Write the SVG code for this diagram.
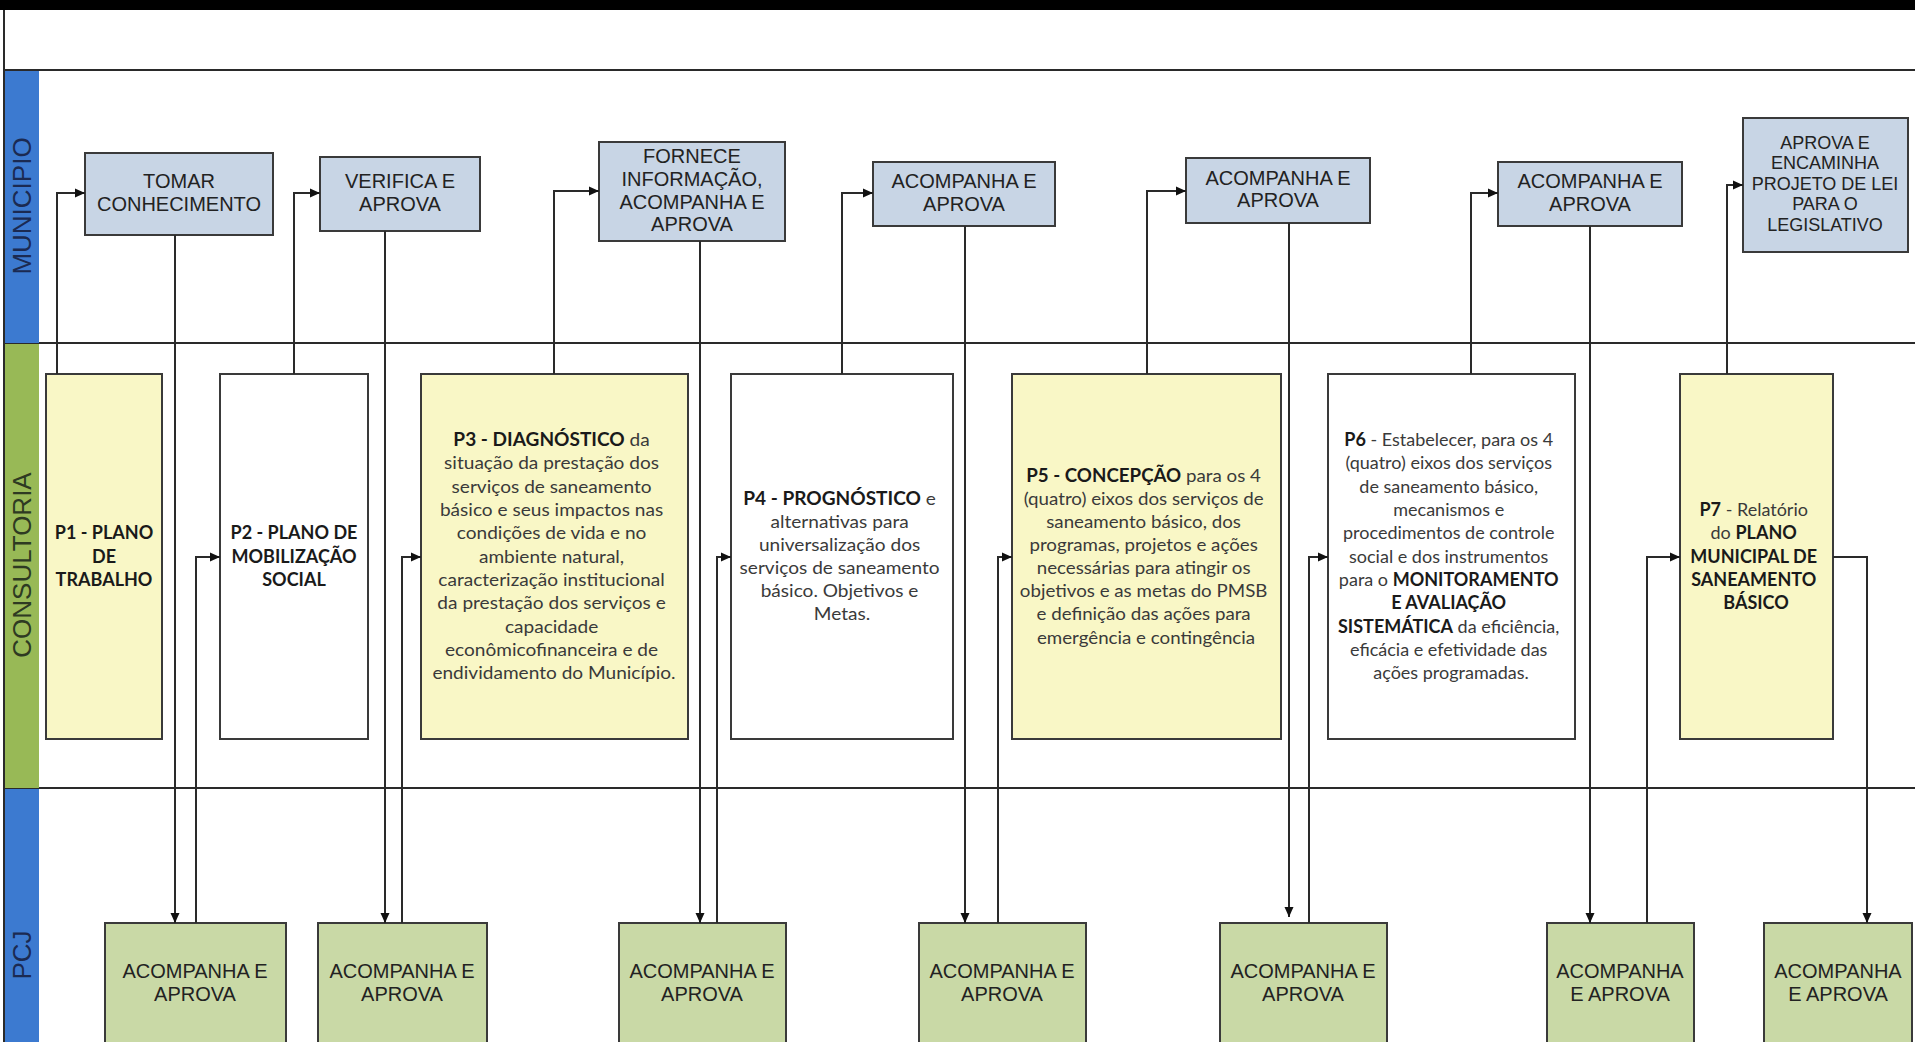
<svg xmlns="http://www.w3.org/2000/svg" width="1915" height="1042" viewBox="0 0 1915 1042">
<defs>
<marker id="ah" markerWidth="10" markerHeight="10" refX="10" refY="5" orient="auto" markerUnits="userSpaceOnUse"><path d="M0,0.5 L10,5 L0,9.5 z" fill="#111"/></marker>
<style>
.mun{fill:#C8D5E5;stroke:#3a3a3a;stroke-width:2}
.pcj{fill:#C9D9A6;stroke:#3a3a3a;stroke-width:2}
.yel{fill:#F9F7C6;stroke:#3a3a3a;stroke-width:2}
.wht{fill:#fff;stroke:#3a3a3a;stroke-width:2}
.lbl{font-family:"Liberation Sans",Arial,sans-serif;font-size:20px;fill:#222;text-anchor:middle}
.lbl18{font-size:18px}
.ptx{font-family:Lato,"Open Sans",sans-serif;font-size:18px;fill:#3a3a3a;text-anchor:middle}
.b{font-weight:bold;fill:#1a1a1a}
.con{fill:none;stroke:#2a2a2a;stroke-width:2}
.ln{stroke:#2a2a2a;stroke-width:2}
.lane{font-family:"Liberation Sans",Arial,sans-serif;font-size:26px;text-anchor:middle;dominant-baseline:central}
</style>
</defs>
<rect x="0" y="0" width="1915" height="1042" fill="#fff"/>
<g id="frame">
<rect x="0" y="0" width="1915" height="10" fill="#000"/>
<line class="ln" x1="4" y1="10" x2="4" y2="1042"/>
<line class="ln" x1="4" y1="70" x2="1915" y2="70"/>
<line class="ln" x1="4" y1="343" x2="1915" y2="343"/>
<line class="ln" x1="4" y1="788" x2="1915" y2="788"/>
</g>
<g id="lane-municipio">
<rect x="5" y="71" width="34" height="272" fill="#3C7AD0"/>
<text class="lane" fill="#1B2A52" transform="translate(22,206) rotate(-90)">MUNICIPIO</text>
</g>
<g id="lane-consultoria">
<rect x="5" y="344" width="34" height="444" fill="#98B956"/>
<text class="lane" fill="#2E3A22" transform="translate(22,565) rotate(-90)">CONSULTORIA</text>
</g>
<g id="lane-pcj">
<rect x="5" y="789" width="34" height="253" fill="#3C7AD0"/>
<text class="lane" fill="#1B2A52" transform="translate(22,955) rotate(-90)">PCJ</text>
</g>

<g id="m1"><rect class="mun" x="85" y="153" width="188" height="82"/>
<text class="lbl"><tspan x="179" y="188">TOMAR</tspan><tspan x="179" y="211">CONHECIMENTO</tspan></text></g>
<g id="m2"><rect class="mun" x="320" y="157" width="160" height="74"/>
<text class="lbl"><tspan x="400" y="188">VERIFICA E</tspan><tspan x="400" y="211">APROVA</tspan></text></g>
<g id="m3"><rect class="mun" x="599" y="142" width="186" height="99"/>
<text class="lbl"><tspan x="692" y="163">FORNECE</tspan><tspan x="692" y="186">INFORMAÇÃO,</tspan><tspan x="692" y="209">ACOMPANHA E</tspan><tspan x="692" y="231">APROVA</tspan></text></g>
<g id="m4"><rect class="mun" x="873" y="162" width="182" height="64"/>
<text class="lbl"><tspan x="964" y="188">ACOMPANHA E</tspan><tspan x="964" y="211">APROVA</tspan></text></g>
<g id="m5"><rect class="mun" x="1186" y="158" width="184" height="65"/>
<text class="lbl"><tspan x="1278" y="185">ACOMPANHA E</tspan><tspan x="1278" y="207">APROVA</tspan></text></g>
<g id="m6"><rect class="mun" x="1498" y="162" width="184" height="64"/>
<text class="lbl"><tspan x="1590" y="188">ACOMPANHA E</tspan><tspan x="1590" y="211">APROVA</tspan></text></g>
<g id="m7"><rect class="mun" x="1743" y="118" width="165" height="134"/>
<text class="lbl lbl18"><tspan x="1825" y="149">APROVA E</tspan><tspan x="1825" y="169">ENCAMINHA</tspan><tspan x="1825" y="190">PROJETO DE LEI</tspan><tspan x="1825" y="210">PARA O</tspan><tspan x="1825" y="231">LEGISLATIVO</tspan></text></g>

<g id="p1"><rect class="yel" x="46" y="374" width="116" height="365"/>
<g transform="translate(104,0) scale(1.0,1)"><text class="ptx b"><tspan x="0" y="539">P1 - PLANO</tspan><tspan x="0" y="563">DE</tspan><tspan x="0" y="586">TRABALHO</tspan></text></g></g>
<g id="p2"><rect class="wht" x="220" y="374" width="148" height="365"/>
<g transform="translate(294,0) scale(1.0,1)"><text class="ptx b"><tspan x="0" y="539">P2 - PLANO DE</tspan><tspan x="0" y="563">MOBILIZAÇÃO</tspan><tspan x="0" y="586">SOCIAL</tspan></text></g></g>
<g id="p3"><rect class="yel" x="421" y="374" width="267" height="365"/>
<g transform="translate(554,0) scale(1.06,1)"><text class="ptx">
<tspan x="0" y="446"><tspan class="b">P3 - DIAGNÓSTICO</tspan> da</tspan>
<tspan x="0" y="469">situação da prestação dos</tspan>
<tspan x="0" y="493">serviços de saneamento</tspan>
<tspan x="0" y="516">básico e seus impactos nas</tspan>
<tspan x="0" y="539">condições de vida e no</tspan>
<tspan x="0" y="563">ambiente natural,</tspan>
<tspan x="0" y="586">caracterização institucional</tspan>
<tspan x="0" y="609">da prestação dos serviços e</tspan>
<tspan x="0" y="633">capacidade</tspan>
<tspan x="0" y="656">econômicofinanceira e de</tspan>
<tspan x="0" y="679">endividamento do Município.</tspan>
</text></g></g>
<g id="p4"><rect class="wht" x="731" y="374" width="222" height="365"/>
<g transform="translate(842,0) scale(1.06,1)"><text class="ptx">
<tspan x="0" y="505"><tspan class="b">P4 - PROGNÓSTICO</tspan> e</tspan>
<tspan x="0" y="528">alternativas para</tspan>
<tspan x="0" y="551">universalização dos</tspan>
<tspan x="0" y="574">serviços de saneamento</tspan>
<tspan x="0" y="597">básico. Objetivos e</tspan>
<tspan x="0" y="620">Metas.</tspan>
</text></g></g>
<g id="p5"><rect class="yel" x="1012" y="374" width="269" height="365"/>
<g transform="translate(1146,0) scale(1.04,1)"><text class="ptx">
<tspan x="0" y="482"><tspan class="b">P5 - CONCEPÇÃO</tspan> para os 4</tspan>
<tspan x="0" y="505">(quatro) eixos dos serviços de</tspan>
<tspan x="0" y="528">saneamento básico, dos</tspan>
<tspan x="0" y="551">programas, projetos e ações</tspan>
<tspan x="0" y="574">necessárias para atingir os</tspan>
<tspan x="0" y="597">objetivos e as metas do PMSB</tspan>
<tspan x="0" y="620">e definição das ações para</tspan>
<tspan x="0" y="644">emergência e contingência</tspan>
</text></g></g>
<g id="p6"><rect class="wht" x="1328" y="374" width="247" height="365"/>
<g transform="translate(1451,0) scale(1.0,1)"><text class="ptx">
<tspan x="0" y="446"><tspan class="b">P6</tspan> - Estabelecer, para os 4</tspan>
<tspan x="0" y="469">(quatro) eixos dos serviços</tspan>
<tspan x="0" y="493">de saneamento básico,</tspan>
<tspan x="0" y="516">mecanismos e</tspan>
<tspan x="0" y="539">procedimentos de controle</tspan>
<tspan x="0" y="563">social e dos instrumentos</tspan>
<tspan x="0" y="586">para o <tspan class="b">MONITORAMENTO</tspan></tspan>
<tspan x="0" y="609" class="b">E AVALIAÇÃO</tspan>
<tspan x="0" y="633"><tspan class="b">SISTEMÁTICA</tspan> da eficiência,</tspan>
<tspan x="0" y="656">eficácia e efetividade das</tspan>
<tspan x="0" y="679">ações programadas.</tspan>
</text></g></g>
<g id="p7"><rect class="yel" x="1680" y="374" width="153" height="365"/>
<g transform="translate(1756,0) scale(1.0,1)"><text class="ptx">
<tspan x="0" y="516"><tspan class="b">P7</tspan> - Relatório</tspan>
<tspan x="0" y="539">do <tspan class="b">PLANO</tspan></tspan>
<tspan x="0" y="563" class="b">MUNICIPAL DE</tspan>
<tspan x="0" y="586" class="b">SANEAMENTO</tspan>
<tspan x="0" y="609" class="b">BÁSICO</tspan>
</text></g></g>

<g id="c1"><rect class="pcj" x="105" y="923" width="181" height="130"/>
<text class="lbl"><tspan x="195" y="978">ACOMPANHA E</tspan><tspan x="195" y="1001">APROVA</tspan></text></g>
<g id="c2"><rect class="pcj" x="318" y="923" width="169" height="130"/>
<text class="lbl"><tspan x="402" y="978">ACOMPANHA E</tspan><tspan x="402" y="1001">APROVA</tspan></text></g>
<g id="c3"><rect class="pcj" x="619" y="923" width="167" height="130"/>
<text class="lbl"><tspan x="702" y="978">ACOMPANHA E</tspan><tspan x="702" y="1001">APROVA</tspan></text></g>
<g id="c4"><rect class="pcj" x="919" y="923" width="167" height="130"/>
<text class="lbl"><tspan x="1002" y="978">ACOMPANHA E</tspan><tspan x="1002" y="1001">APROVA</tspan></text></g>
<g id="c5"><rect class="pcj" x="1220" y="923" width="167" height="130"/>
<text class="lbl"><tspan x="1303" y="978">ACOMPANHA E</tspan><tspan x="1303" y="1001">APROVA</tspan></text></g>
<g id="c6"><rect class="pcj" x="1547" y="923" width="147" height="130"/>
<text class="lbl"><tspan x="1620" y="978">ACOMPANHA</tspan><tspan x="1620" y="1001">E APROVA</tspan></text></g>
<g id="c7"><rect class="pcj" x="1764" y="923" width="148" height="130"/>
<text class="lbl"><tspan x="1838" y="978">ACOMPANHA</tspan><tspan x="1838" y="1001">E APROVA</tspan></text></g>

<g id="connectors" class="con">
<path marker-end="url(#ah)" d="M57,374 V193 H85"/>
<path marker-end="url(#ah)" d="M175,235 V923"/>
<path marker-end="url(#ah)" d="M196,923 V557 H220"/>
<path marker-end="url(#ah)" d="M294,374 V193 H320"/>
<path marker-end="url(#ah)" d="M385,231 V923"/>
<path marker-end="url(#ah)" d="M402,923 V557 H421"/>
<path marker-end="url(#ah)" d="M554,374 V191 H599"/>
<path marker-end="url(#ah)" d="M700,241 V923"/>
<path marker-end="url(#ah)" d="M717,923 V557 H731"/>
<path marker-end="url(#ah)" d="M842,374 V193 H873"/>
<path marker-end="url(#ah)" d="M965,226 V923"/>
<path marker-end="url(#ah)" d="M998,923 V557 H1012"/>
<path marker-end="url(#ah)" d="M1147,374 V191 H1186"/>
<path marker-end="url(#ah)" d="M1289,223 V917"/>
<path marker-end="url(#ah)" d="M1309,923 V557 H1328"/>
<path marker-end="url(#ah)" d="M1471,374 V193 H1498"/>
<path marker-end="url(#ah)" d="M1590,226 V923"/>
<path marker-end="url(#ah)" d="M1647,923 V557 H1680"/>
<path marker-end="url(#ah)" d="M1727,374 V185 H1743"/>
<path marker-end="url(#ah)" d="M1833,557 H1867 V923"/>
</g>
</svg>
